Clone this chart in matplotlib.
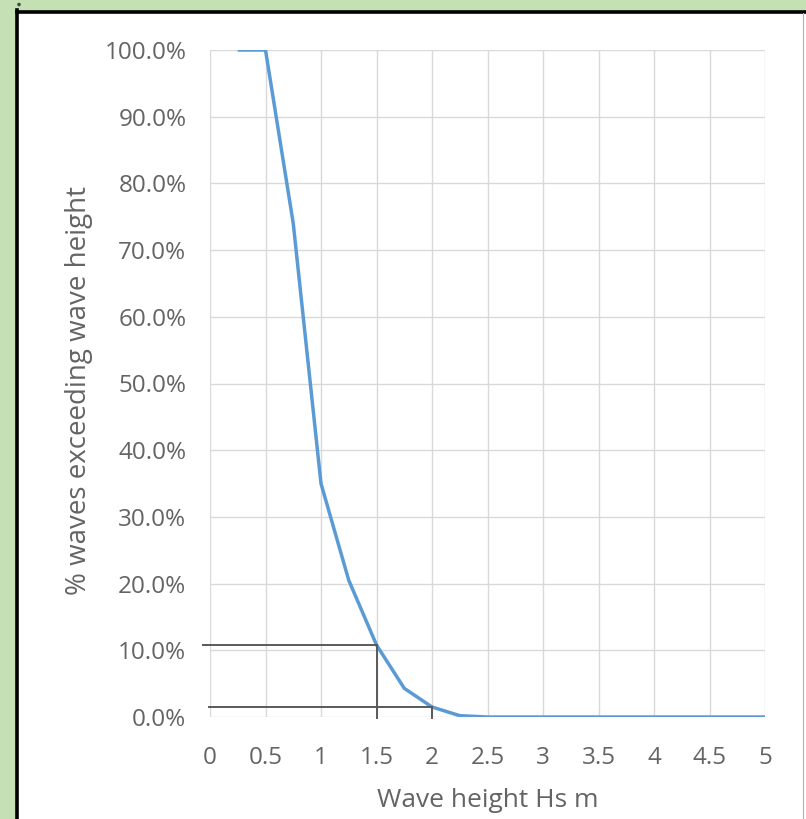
import matplotlib
matplotlib.use("Agg")
import matplotlib.pyplot as plt
from matplotlib.lines import Line2D
from matplotlib.patches import Rectangle, Circle

# Exceedance curve: share of waves exceeding a given significant wave height
wave_height = [0.25, 0.5, 0.75, 1.0, 1.25, 1.5, 1.75, 2.0, 2.25, 2.5,
               2.75, 3.0, 3.25, 3.5, 3.75, 4.0, 4.25, 4.5, 4.75, 5.0]
pct_exceeding = [100.0, 100.0, 74.0, 35.0, 20.5, 10.8, 4.3, 1.5, 0.2, 0.0,
                 0.0, 0.0, 0.0, 0.0, 0.0, 0.0, 0.0, 0.0, 0.0, 0.0]

# Marked read-offs: (wave height, % exceeding)
readoffs = [(1.5, 10.8), (2.0, 1.5)]

x_ticks = [0, 0.5, 1, 1.5, 2, 2.5, 3, 3.5, 4, 4.5, 5]
x_tick_labels = ["0", "0.5", "1", "1.5", "2", "2.5", "3", "3.5", "4", "4.5", "5"]
y_ticks = [0, 10, 20, 30, 40, 50, 60, 70, 80, 90, 100]
y_tick_labels = [f"{v:.1f}%" for v in y_ticks]

W, H = 806, 819
plt.rcParams["font.family"] = ["Open Sans", "DejaVu Sans"]

fig = plt.figure(figsize=(W / 100, H / 100), dpi=100, facecolor="#c5e0b4")


def fx(px):
    return px / W


def fy(py):
    return 1 - py / H


# White panel with a dark frame on the top and left
fig.patches.append(Rectangle((fx(16), 0), 1 - fx(16), fy(11), transform=fig.transFigure,
                             facecolor="white", edgecolor="none", zorder=-2))
fig.lines.append(Line2D([fx(16.5), 1], [fy(11.5), fy(11.5)], transform=fig.transFigure,
                        color="black", lw=2.6, zorder=-1))
fig.lines.append(Line2D([fx(16.5), fx(16.5)], [0, fy(10)], transform=fig.transFigure,
                        color="black", lw=2.6, zorder=-1))
fig.lines.append(Line2D([fx(802.5), fx(802.5)], [0, fy(13)], transform=fig.transFigure,
                        color="#b0b0b0", lw=0.8, zorder=-1))
fig.patches.append(Circle((fx(19), fy(4.5)), 1.8 / W, transform=fig.transFigure,
                          facecolor="#2f5a2a", edgecolor="none", zorder=-1))

ax = fig.add_axes([fx(210), fy(717), fx(765) - fx(210), fy(50) - fy(717)])
ax.set_zorder(5)
ax.set_facecolor("none")

ax.set_xlim(0, 5)
ax.set_ylim(0, 100)
ax.set_xticks(x_ticks)
ax.set_xticklabels(x_tick_labels)
ax.set_yticks(y_ticks)
ax.set_yticklabels(y_tick_labels)

for s in ax.spines.values():
    s.set_visible(False)
ax.grid(True, color="#d9d9d9", lw=1.0)
ax.set_axisbelow(True)
ax.tick_params(axis="both", length=0, colors="#646464", labelsize=17.5)
ax.tick_params(axis="x", pad=21)
ax.tick_params(axis="y", pad=17)

ax.plot(wave_height, pct_exceeding, color="#5b9bd5", lw=2.5,
        solid_joinstyle="round", solid_capstyle="butt", zorder=3)

# Read-off guide lines from the curve to the axes
x_starts = [-0.065, -0.01]
for (hx, py), xs in zip(readoffs, x_starts):
    ax.plot([xs, hx], [py, py], color="#595959", lw=1.4, clip_on=False, zorder=4)
    ax.plot([hx, hx], [py, -0.2], color="#595959", lw=1.4, clip_on=False, zorder=4)

ax.set_xlabel("Wave height Hs m", color="#646464", fontsize=19)
ax.set_ylabel("% waves exceeding wave height", color="#646464", fontsize=20)
ax.xaxis.set_label_coords(0.501, -0.107)
ax.yaxis.set_label_coords(-0.211, 0.489)

fig.savefig("out.png", dpi=100, facecolor=fig.get_facecolor())
